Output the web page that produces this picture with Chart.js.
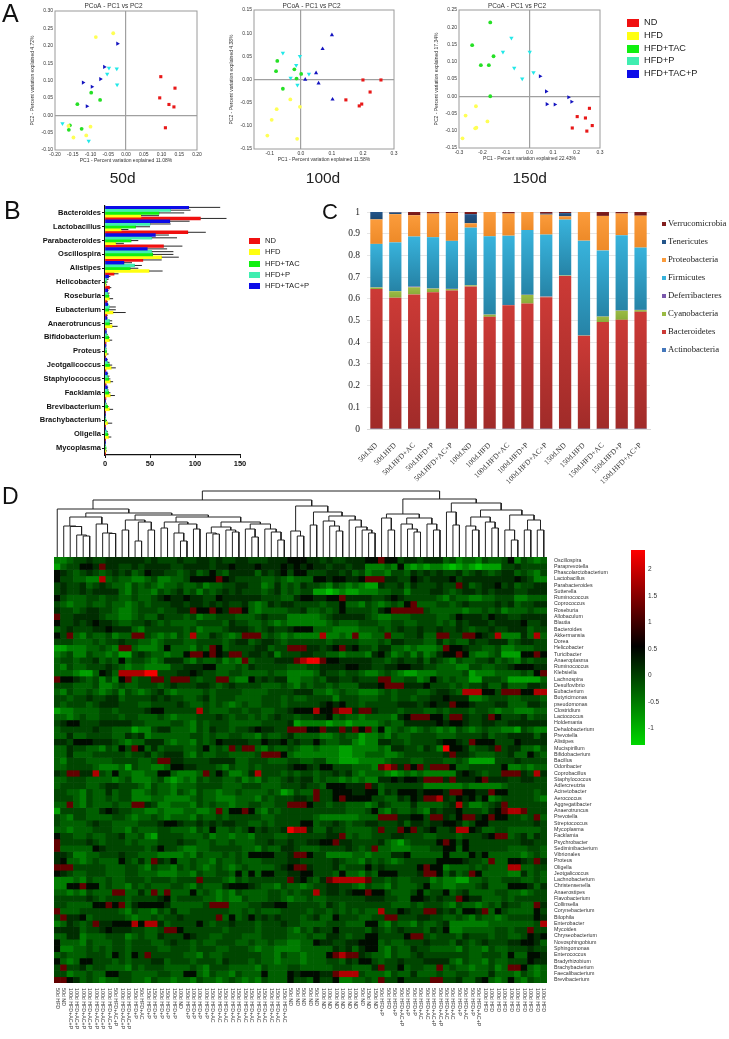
<!DOCTYPE html>
<html>
<head>
<meta charset="utf-8">
<title>Gut microbiota figure</title>
<script src="https://cdn.jsdelivr.net/npm/chart.js@4"></script>
<style>
  html, body { margin: 0; padding: 0; background: #fff; }
  #page { position: relative; width: 729px; height: 1039px; overflow: hidden; font-family: "Liberation Sans", sans-serif; filter: blur(.3px); }
  #page canvas { position: absolute; }
  .txt { position: absolute; white-space: nowrap; line-height: 1; }
  .sw { position: absolute; }
</style>
</head>
<body>
<div id="page"></div>
<script>
// Panel A: PCoA points, one [x, y] list per group
var groupNames = ['ND', 'HFD', 'HFD+TAC', 'HFD+P', 'HFD+TAC+P'];
var nd50 = [[.098,.111],[.138,.078],[.095,.05],[.121,.031],[.135,.024],[.111,-.036]];
var hfd50 = [[-.085,.225],[-.036,.236],[-.10,-.033],[-.162,-.031],[-.148,-.064],[-.112,-.058]];
var tac50 = [[-.098,.065],[-.073,.044],[-.137,.032],[-.158,-.029],[-.161,-.042],[-.125,-.039]];
var p50 = [[-.048,.136],[-.026,.134],[-.053,.119],[-.025,.088],[-.179,-.024],[-.105,-.074]];
var tacp50 = [[-.024,.206],[-.061,.139],[-.072,.104],[-.096,.082],[-.121,.094],[-.11,.026]];

var nd100 = [[.258,-.001],[.2,-.001],[.223,-.027],[.145,-.044],[.196,-.053],[.188,-.057]];
var hfd100 = [[-.078,-.064],[-.034,-.043],[-.003,-.059],[-.094,-.087],[-.108,-.121],[-.012,-.128]];
var tac100 = [[-.076,.04],[-.08,.018],[-.021,.022],[.001,.012],[-.014,.002],[-.058,-.02]];
var p100 = [[-.058,.057],[-.003,.05],[-.015,.031],[.026,.012],[-.033,.003],[-.011,-.012]];
var tacp100 = [[.1,.096],[.07,.066],[.049,.014],[.014,0],[.057,-.008],[.102,-.043]];

var nd150 = [[.255,-.035],[.203,-.059],[.238,-.063],[.267,-.085],[.182,-.092],[.244,-.101]];
var hfd150 = [[-.228,-.029],[-.272,-.056],[-.179,-.073],[-.226,-.091],[-.231,-.093],[-.285,-.122]];
var tac150 = [[-.167,.214],[-.244,.148],[-.153,.116],[-.207,.09],[-.173,.09],[-.167,0]];
var p150 = [[-.077,.169],[-.113,.128],[.001,.128],[-.065,.082],[.017,.069],[-.031,.051]];
var tacp150 = [[.045,.058],[.071,.014],[.166,-.003],[.179,-.016],[.074,-.023],[.108,-.024]];

var ticks50x = [-.2,-.15,-.1,-.05,0,.05,.1,.15,.2];
var ticks50y = [-.1,-.05,0,.05,.1,.15,.2,.25,.3];
var ticks100x = [-.1,0,.1,.2,.3];
var ticks100y = [-.15,-.1,-.05,0,.05,.1,.15];
var ticks150x = [-.3,-.2,-.1,0,.1,.2,.3];
var ticks150y = [-.15,-.1,-.05,0,.05,.1,.15,.2,.25];

// Panel B: genus abundance, mean and upper error per group
var genera = ['Bacteroides','Lactobacillus','Parabacteroides','Oscillospira','Alistipes','Helicobacter','Roseburia','Eubacterium','Anaerotruncus','Bifidobacterium','Proteus','Jeotgalicoccus','Staphylococcus','Facklamia','Brevibacterium','Brachybacterium','Oligella','Mycoplasma'];
var ndMean = [106,92,65,42,10,5,2,2,1,1,.5,1,1,1,.5,.3,.5,.3];
var ndErr = [135,112,86,63,15,7,3,3,2,1.5,1,1,1.5,1,1,.5,1,.5];
var hfdMean = [40,18,12,63,49,1,5,9,8,5,2,7,6,6,5,3,4,1];
var hfdErr = [60,26,21,82,64,2,9,23,14,8,4,12,9,11,9,8,7,2];
var tacMean = [60,34,29,53,28,1,4,4,5,4,1.5,5,4,4,3,1,3,1];
var tacErr = [88,50,37,76,37,3,5,12,8,5,2,8,6,6,4,2,4,1.5];
var pMean = [73,50,52,52,33,2,3,5,5,2,1,3,3,3,1,.5,2,.5];
var pErr = [95,73,80,76,41,4,5,12,8,3,1.5,5,5,4,2,1,3,1];
var tacpMean = [93,72,56,47,21,4,3,3,2,1.5,1,2,2.5,2.5,.5,.5,.5,.5];
var tacpErr = [128,94,71,69,30,6,4,4,3,2,1.5,3,3.5,3.5,1,1,1,1];

// Panel C: phylum fractions
var samples = ['50d.ND','50d.HFD','50d.HFD+AC','50d.HFD+P','50d.HFD+AC+P','100d.ND','100d.HFD','100d.HFD+AC','100d.HFD+P','100d.HFD+AC+P','150d.ND','150d.HFD','150d.HFD+AC','150d.HFD+P','150d.HFD+AC+P'];
var phyla = ['Actinobacteria','Bacteroidetes','Cyanobacteria','Deferribacteres','Firmicutes','Proteobacteria','Tenericutes','Verrucomicrobia'];
var actinobacteria = [.001,.001,.001,.001,.001,.001,.001,.001,.001,.001,.001,.001,.001,.001,.001];
var bacteroidetes = [.644,.604,.619,.629,.637,.656,.516,.569,.577,.606,.704,.429,.492,.502,.539];
var cyanobacteria = [.007,.03,.033,.017,.007,.005,.01,.001,.04,.002,.002,.001,.025,.042,.008];
var deferribacteres = [.001,.001,.003,.001,.001,.001,.001,.001,.001,.002,.001,0,.001,.001,.001];
var firmicutes = [.2,.224,.231,.236,.221,.265,.36,.319,.298,.285,.257,.437,.304,.347,.287];
var proteobacteria = [.113,.13,.098,.109,.128,.02,.112,.102,.083,.092,.015,.132,.159,.1,.147];
var tenericutes = [.034,.008,0,0,0,.042,0,0,0,.004,.015,0,0,0,0];
var verrucomicrobia = [0,.002,.015,.007,.005,.01,0,.008,0,.008,.005,0,.018,.007,.017];

// Panel D: heatmap cells, one digit per cell, digit picks a level from heatLevels
var heatLevels = [-1.14,-.83,-.53,-.27,-.055,.16,.45,1.25,1.8,2.3];
var heatTaxa = ['Oscillospira','Paraprevotella','Phascolarctobacterium','Lactobacillus','Parabacteroides','Sutterella','Ruminococcus','Coprococcus','Roseburia','Allobaculum','Blautia','Bacteroides','Akkermansia','Dorea','Helicobacter','Turicibacter','Anaeroplasma','Ruminococcus','Klebsiella','Lachnospira','Desulfovibrio','Eubacterium','Butyricimonas','pseudomonas','Clostridium','Lactococcus','Holdemania','Dehalobacterium','Prevotella','Alistipes','Mucispirillum','Bifidobacterium','Bacillus','Odoribacter','Coprobacillus','Staphylococcus','Adlercreutzia','Acinetobacter','Aerococcus','Aggregatibacter','Anaerotruncus','Prevotella','Streptococcus','Mycoplasma','Facklamia','Psychrobacter','Sediminibacterium','Vibrionales','Proteus','Oligella','Jeotgalicoccus','Lachnobacterium','Christensenella','Anaerostipes','Flavobacterium','Collinsella','Corynebacterium','Bilophila','Enterobacter','Mycoides','Chryseobacterium','Novosphingobium','Sphingomonas','Enterococcus','Bradyrhizobium','Brachybacterium','Faecalibacterium','Brevibacterium'];
var heatSamples = ['50d HFD','50d ND','100d HFD+AC+P','100d HFD+AC+P','100d HFD+AC+P','100d HFD+AC+P','100d HFD+AC+P','100d HFD+AC+P','100d HFD+AC+P','50d HFD+AC+P','100d HFD+AC+P','100d HFD+AC+P','150d HFD+P','50d HFD+AC','150d HFD+P','150d HFD+P','150d HFD+P','150d HFD+P','150d HFD+P','100d ND','150d HFD+P','100d HFD+P','100d HFD+P','100d HFD+P','150d HFD+AC','150d HFD+AC','150d HFD+AC','150d HFD+AC','150d HFD+AC','150d HFD+AC','150d HFD+AC','150d HFD+AC','150d HFD+AC','150d HFD+AC','150d HFD+AC','150d HFD+AC','50d ND','50d ND','50d ND','50d ND','50d ND','100d ND','100d ND','100d ND','100d ND','100d ND','100d ND','50d ND','150d ND','150d ND','50d HFD+P','50d HFD','50d HFD+P','50d HFD+AC+P','50d HFD+P','50d HFD+P','50d HFD+AC','50d HFD+AC','50d HFD+AC+P','50d HFD+AC+P','50d HFD+AC','50d HFD+AC','50d HFD+P','50d HFD+AC','50d HFD+P','50d HFD+AC+P','100d HFD','100d HFD','100d HFD','100d HFD','100d HFD','100d HFD','100d HFD','100d HFD','100d HFD','100d HFD'];
var heatRows = [
  '2234454455 5555454445 4455454455 4445556665 5454455566 7664554555 3423324334 624323',
  '1344665755 4454555544 5555455655 5655565656 5545545522 2326212122 1012101114 454444',
  '6543454345 4534655443 4534643555 5354564664 4455453423 3244354545 4453454345 534324',
  '6443322834 3322342233 4666676544 4433432333 6656655677 7554465455 5645555555 565422',
  '4544534543 3243432334 3342334455 4423534354 4324323211 5445354445 4475345564 534455',
  '4544545555 3243324345 3424345454 4434534344 1101211222 3344244455 4345545455 544555',
  '6433344344 3343345655 6554465555 5544433566 5566755554 4565444443 2433223344 422333',
  '4323343343 3234344455 4554545445 3235455444 4344633243 2343673334 4345444454 534455',
  '5443455443 2234443445 5766765776 3233334453 3434644443 5677777433 3332334342 333433',
  '7445555433 2234335444 3423344433 3454442222 2345555543 2233344443 3465554655 445555',
  '6445456554 3344543433 3344443544 3343232222 2234333444 3344334443 4354555455 556445',
  '3454445565 5532444444 3423334555 4345445666 3332222333 4345445445 4454344544 555344',
  '6473243342 3377432324 3833543237 7734323222 2822327223 3733445337 7447765482 225383',
  '4443334344 5443323444 3344443455 3455434444 4434444333 4355444335 3433544555 345544',
  '1122233432 7732223633 3243763444 4553447775 5456756443 5533232223 7665443342 233344',
  '2342243323 1145433233 6776765774 5545244455 4433233325 6423424235 6676322341 116676',
  '3443445343 6344323555 3243342327 3444555789 9766555554 4345445354 3243344534 324344',
  '3243344454 3233222244 5556633343 5444443334 4555566554 4556655443 3322443344 566655',
  '3332113653 8888994445 5654433443 3334332222 3544344322 3432112223 3334122233 334367',
  '7665434242 6734477477 7434477322 6454552233 4355445444 7733442364 3433114443 111113',
  '4443334223 4334443454 4455434544 4433343243 4434333555 6777555644 4343445335 333554',
  '3243343234 2432345323 3334344443 3334444555 3323433222 3434443345 5438886647 776688',
  '4434454455 3444454544 3345344433 3344434334 4442444333 4434434455 6555223444 334443',
  '4344434555 4443344445 4334343234 3344434444 4565644344 4445554565 5766544455 333554',
  '1223333443 4444566444 4484333443 4433445666 8667885775 4443444334 3444344323 322233',
  '3323433444 3443334323 3344454344 3434544344 5563433233 3325677766 4775445764 445344',
  '4566444555 5544333344 3243444333 3344445122 2212212222 3433555556 5665445544 555555',
  '3444445443 3312245533 3243544344 5655447776 6755757673 6234323432 3243234332 214322',
  '3353344443 3545233333 3443433443 3243345333 3223433122 3243344443 3344445344 555535',
  '5546665554 3233555323 3243465555 4465564544 6433442122 5544344445 6654766644 465555',
  '3354433243 6476353444 3346343747 7324334322 3222112222 3255443542 9665344574 553324',
  '3353334444 4344534555 3243344333 3477763222 2222112233 3223444444 5755433344 533643',
  '3244433334 4443347755 4444555533 4443334433 4422111222 2344433444 3343111144 454444',
  '3344443222 3143322366 5544432433 4344445665 4664443332 7875767477 7633444446 223233',
  '5477558436 3322336632 2237464223 5844434344 3445453233 3212323222 2256543447 775485',
  '3344433332 3422234212 3243443342 3243345455 3433232322 5565665777 5755567555 445544',
  '3444433455 4443243323 3344443334 4433344454 4366655575 3444444222 2223222223 444444',
  '4433243353 4422343324 3243323343 3334312433 7446665566 3546665666 5776655766 444434',
  '4443243343 4422233222 2343322233 3243444554 7446766664 4335465778 5465646234 444432',
  '3373243334 3377542233 3243433233 4433447776 4434433323 5433353333 4584223457 444444',
  '1444433565 4433223222 3322373667 6324344444 4444433346 3243343254 5564443567 887444',
  '4324433334 4323343233 3243343444 4433444444 3222222333 7775566477 5467756766 443473',
  '4333345443 3334445665 4454545544 3343444466 3445434455 4445355455 6653466444 444454',
  '3323334443 3243334433 3243633434 6454459885 3354433334 7447674564 4588653344 333334',
  '6443343344 5334214444 3334233233 2444334444 4455734334 4455444334 4434445677 345354',
  '7444454344 4343334445 4433433433 3445445445 5667554444 5321344446 7646444444 445544',
  '7333336544 4444346443 2233444443 3243355433 3444454347 3322233344 6636444444 333443',
  '5542233444 5443332222 3243334343 6666445776 4422223323 3355633333 6333646333 332343',
  '5633234333 6435375463 3433243343 3344445544 4445433243 4323444446 6665443733 665475',
  '7774444433 3443243324 3432343234 3333456775 4445344464 5444446766 2333434333 883344',
  '6543344433 3443332223 3243344363 6366445566 4443633243 6664445776 3534763333 225343',
  '2223243343 3444344434 4474443243 4444447564 3578888874 4343344423 2211334334 443343',
  '2266766343 3243433344 3243335666 5433243323 4455443243 3243334633 2233345333 666535',
  '3323243337 7335373733 3634323243 3334434344 8455456676 6433346344 6345333344 332344',
  '4444454344 4344445634 4443323224 3334432334 3344444455 5443366545 4476553334 344444',
  '4433336676 7356666533 3334777333 4455664444 4354344444 4433343444 3243323435 443375',
  '7333444444 3243324353 3444444334 3433344443 4434343433 8446544775 4536657364 333364',
  '4755634444 4323343445 4444473634 6454544434 5336444334 4774445544 3343243323 444465',
  '2354347556 6686885344 4464344544 4344454433 3344433366 3243324334 5222222333 333348',
  '5555344565 5544334776 4444443444 4344443243 5446444435 4345444354 6223333344 344744',
  '3355233344 4234335444 6544334443 3344443334 3355434466 4444677434 4435444344 334656',
  '6333243334 4344433454 4343344433 4334332233 6554455666 3433444544 4354345444 556653',
  '6223343434 4344443344 4344433444 3233222233 3335453566 3243354433 3324332433 444544',
  '3433344436 4364744444 3324334444 4433243323 3367877543 3243345444 4444334443 633665',
  '6323664443 4344455344 4344435444 3433233323 3344354664 3445444555 5324332433 444655',
  '4744534433 3243444333 3432444333 3243334433 3334443335 7446344337 3433233423 776323',
  '4423343366 4433334433 6632433243 3363336566 6557888433 3243353334 3344333533 324323',
  '7765343233 4433243323 3243323432 3243336443 6446223343 7446444477 4453356323 632433'
];
var colorbarTicks = [-1,-.5,0,.5,1,1.5,2];
var colorbarRange = [-1.31, 2.37];

// Dendrogram over the heatmap: [height, left, right], 0 is a leaf
var dendroTree = [66,
  [57,
    [48, 0,
      [44,
        [40, [31, 0, [30.5, 0, [22, 0, [21, 0, 0]]]], [33, 0, [24, 0, [23.5, 0, 0]]]],
        [42,
          [37, [27, 0, 0], [35, [16, 0, 0], [27, 0, 0]]],
          [40,
            [35, [29, 0, 0], [33, [24, 0, [16, 0, 0]], [28, 0, 0]]],
            [35,
              [30, [24, 0, [23, 0, 0]], [27, 0, [25, 0, 0]]],
              [33, [28, 0, [20, 0, 0]], [28, 0, [25, 0, [17, 0, 0]]]]]]]]],
    [51,
      [26, 0, [21, 0, 0]],
      [45, [32, 0, 0],
        [41, [36, 0, [31, 0, [26, 0, 0]]], [37, 0, [30, 0, [27, 0, [24, 0, 0]]]]]]]],
  [58,
    [43, [39, 0, [27, 0, 0]], [39, [33, 0, [28, 0, [25, 0, 0]]], [33, 0, [27, 0, 0]]]],
    [54, [45, 0, [32, 0, 0]],
      [47,
        [40, [31, 0, [27, 0, 0]], [35, 0, [29, 0, 0]]],
        [42, [27, 0, [17, 0, 0]], [37, [27, 0, 0], [27, 0, 0]]]]]]];

Chart.defaults.animation = false;
Chart.defaults.responsive = false;
Chart.defaults.font.family = '"Liberation Sans", sans-serif';
Chart.defaults.plugins.legend.display = false;
Chart.defaults.plugins.tooltip.enabled = false;

var page = document.getElementById('page');

function text(str, x, y, size, opts) {
  opts = opts || {};
  var d = document.createElement('div');
  d.className = 'txt';
  d.textContent = str;
  d.style.left = x + 'px';
  d.style.top = y + 'px';
  d.style.fontSize = size + 'px';
  if (opts.family) d.style.fontFamily = opts.family;
  if (opts.color) d.style.color = opts.color;
  if (opts.center) d.style.transform = 'translateX(-50%)';
  page.appendChild(d);
}

function swatch(x, y, w, h, color) {
  var d = document.createElement('div');
  d.className = 'sw';
  d.style.cssText = 'left:' + x + 'px;top:' + y + 'px;width:' + w + 'px;height:' + h + 'px;background:' + color;
  page.appendChild(d);
}

// Canvas placed so the plot area lands on the given rectangle
function makeCanvas(rect, m) {
  var c = document.createElement('canvas');
  c.width = rect.w + m.l + m.r;
  c.height = rect.h + m.t + m.b;
  c.style.left = (rect.x - m.l) + 'px';
  c.style.top = (rect.y - m.t) + 'px';
  page.appendChild(c);
  return c;
}

// Fixed axis size, no extra room for labels that stick out at the ends
function fixSize(size) {
  return function(s) {
    if (s.isHorizontal()) s.height = size; else s.width = size;
    s.paddingTop = s.paddingBottom = s.paddingLeft = s.paddingRight = 0;
  };
}

// Panel A
function fmt2(v) { return v.toFixed(2); }
function fmt1(v) { return v.toFixed(1); }

var framePlugin = {
  id: 'frame',
  afterDraw: function(chart) {
    var a = chart.chartArea, ctx = chart.ctx;
    ctx.save();
    ctx.strokeStyle = '#9a9a9a';
    ctx.lineWidth = 1;
    ctx.strokeRect(a.left, a.top, a.right - a.left, a.bottom - a.top);
    ctx.restore();
  }
};

function pcoa(rect, points, cfg) {
  var styles = [
    { c: '#e81818', s: 'rect', r: 2.2, rot: 0 },
    { c: '#ffff55', s: 'circle', r: 1.9, rot: 0 },
    { c: '#25e025', s: 'circle', r: 1.9, rot: 0 },
    { c: '#22e8e8', s: 'triangle', r: 2.5, rot: 180 },
    { c: '#1414c0', s: 'triangle', r: 2.4, rot: cfg.blueRot }
  ];
  function zeroLine(ctx) { return ctx.tick && ctx.tick.value === 0 ? '#a0a0a0' : 'rgba(0,0,0,0)'; }
  new Chart(makeCanvas(rect, { l: 25, t: rect.y, r: 8, b: 14 }), {
    type: 'scatter',
    data: {
      datasets: points.map(function(list, i) {
        return {
          label: groupNames[i],
          data: list.map(function(p) { return { x: p[0], y: p[1] }; }),
          backgroundColor: styles[i].c,
          borderWidth: 0,
          pointStyle: styles[i].s,
          pointRadius: styles[i].r,
          rotation: styles[i].rot
        };
      })
    },
    options: {
      layout: { padding: { right: 8 } },
      plugins: {
        title: { display: true, text: 'PCoA - PC1 vs PC2', color: '#333', font: { size: 6.5, weight: 'normal' }, padding: { top: 2, bottom: rect.y - 9.8 } }
      },
      scales: {
        x: {
          min: cfg.xr[0], max: cfg.xr[1],
          afterBuildTicks: function(s) { s.ticks = cfg.xt.map(function(v) { return { value: v }; }); },
          afterFit: fixSize(14),
          grid: { color: zeroLine, lineWidth: 1.2, drawTicks: false },
          border: { display: false },
          ticks: { autoSkip: false, maxRotation: 0, padding: 2, color: '#333', font: { size: 5 }, callback: cfg.xf },
          title: { display: true, text: 'PC1 - Percent variation explained ' + cfg.xp, color: '#333', font: { size: 5 }, padding: 0 }
        },
        y: {
          min: cfg.yr[0], max: cfg.yr[1],
          afterBuildTicks: function(s) { s.ticks = cfg.yt.map(function(v) { return { value: v }; }); },
          afterFit: fixSize(25),
          grid: { color: zeroLine, lineWidth: 1.2, drawTicks: false },
          border: { display: false },
          ticks: { autoSkip: false, padding: 2, color: '#333', font: { size: 5 }, callback: fmt2 },
          title: { display: true, text: 'PC2 - Percent variation explained ' + cfg.yp, color: '#333', font: { size: 5 }, padding: 0 }
        }
      }
    },
    plugins: [framePlugin]
  });
}

pcoa({ x: 55, y: 11, w: 142, h: 139 }, [nd50, hfd50, tac50, p50, tacp50], {
  xr: [-.2, .2], yr: [-.1, .3], xt: ticks50x, yt: ticks50y, xf: fmt2, xp: '11.08%', yp: '4.72%', blueRot: 90
});
pcoa({ x: 254, y: 10, w: 140, h: 139 }, [nd100, hfd100, tac100, p100, tacp100], {
  xr: [-.151, .3], yr: [-.15, .15], xt: ticks100x, yt: ticks100y, xf: fmt1, xp: '11.58%', yp: '4.38%', blueRot: 0
});
pcoa({ x: 459, y: 10, w: 141, h: 138 }, [nd150, hfd150, tac150, p150, tacp150], {
  xr: [-.3, .3], yr: [-.15, .25], xt: ticks150x, yt: ticks150y, xf: fmt1, xp: '22.43%', yp: '17.34%', blueRot: 90
});

text('50d', 122.7, 170, 15.5, { center: true, color: '#222' });
text('100d', 323, 170, 15.5, { center: true, color: '#222' });
text('150d', 529.7, 170, 15.5, { center: true, color: '#222' });

var legendColors = ['#f01010', '#ffff10', '#10f010', '#40eeb0', '#0c0ce8'];
groupNames.forEach(function(name, i) {
  var y = 23 + i * 12.75;
  swatch(627, y - 4, 12, 8, legendColors[i]);
  text(name, 644, y - 5, 9.2, { color: '#222' });
});

// Panel B
var errorBarPlugin = {
  id: 'errorBars',
  afterDatasetsDraw: function(chart) {
    var ctx = chart.ctx, xs = chart.scales.x;
    ctx.save();
    ctx.strokeStyle = '#111';
    ctx.lineWidth = 0.9;
    chart.data.datasets.forEach(function(ds, i) {
      chart.getDatasetMeta(i).data.forEach(function(bar, j) {
        ctx.beginPath();
        ctx.moveTo(xs.getPixelForValue(ds.data[j]), bar.y);
        ctx.lineTo(xs.getPixelForValue(ds.errors[j]), bar.y);
        ctx.stroke();
      });
    });
    ctx.restore();
  }
};

var barRect = { x: 105, y: 206, w: 135, h: 249 };
var barColors = ['#0c0ce8', '#40eeb0', '#10f010', '#ffff10', '#f01010'];
new Chart(makeCanvas(barRect, { l: 100, t: 5, r: 12, b: 16 }), {
  type: 'bar',
  data: {
    labels: genera,
    datasets: [
      { label: 'HFD+TAC+P', data: tacpMean, errors: tacpErr, backgroundColor: barColors[0] },
      { label: 'HFD+P', data: pMean, errors: pErr, backgroundColor: barColors[1] },
      { label: 'HFD+TAC', data: tacMean, errors: tacErr, backgroundColor: barColors[2] },
      { label: 'HFD', data: hfdMean, errors: hfdErr, backgroundColor: barColors[3] },
      { label: 'ND', data: ndMean, errors: ndErr, backgroundColor: barColors[4] }
    ]
  },
  options: {
    indexAxis: 'y',
    layout: { padding: { top: 5, right: 12 } },
    datasets: { bar: { barPercentage: 1, categoryPercentage: 1 } },
    scales: {
      x: {
        min: 0, max: 150,
        afterFit: fixSize(16),
        grid: { drawOnChartArea: false, tickLength: 3, tickColor: '#111', offset: false },
        border: { color: '#111', width: 1.2 },
        ticks: { stepSize: 50, padding: 1, color: '#111', font: { size: 7.5, weight: 'bold' } }
      },
      y: {
        afterFit: fixSize(100),
        grid: { drawOnChartArea: false, tickLength: 3, tickColor: '#111', offset: false },
        border: { color: '#111', width: 1.2 },
        ticks: { autoSkip: false, padding: 1, color: '#111', font: { size: 7.5, weight: 'bold' } }
      }
    }
  },
  plugins: [errorBarPlugin]
});

groupNames.forEach(function(name, i) {
  var y = 241 + i * 11.25;
  swatch(249, y - 3, 11, 6, barColors[4 - i]);
  text(name, 265, y - 4, 7.6, { color: '#222' });
});

// Panel C
var serif = '"Liberation Serif", serif';
var phylaValues = [actinobacteria, bacteroidetes, cyanobacteria, deferribacteres, firmicutes, proteobacteria, tenericutes, verrucomicrobia];
var phylaBottom = ['#3d6fb0', '#a02b29', '#8aac3a', '#6a4a9c', '#2683a6', '#ee8a28', '#1c4870', '#6e1616'];
var phylaTop = ['#4477bb', '#cc3a36', '#9bbb44', '#7a58ac', '#38b3dc', '#fb9c3c', '#24558a', '#821e1e'];

function segmentFill(ctx) {
  var chart = ctx.chart;
  if (!chart.chartArea || ctx.dataIndex === undefined) return phylaTop[ctx.datasetIndex];
  var low = 0;
  for (var k = 0; k < ctx.datasetIndex; k++) low += phylaValues[k][ctx.dataIndex];
  var high = low + phylaValues[ctx.datasetIndex][ctx.dataIndex];
  var ys = chart.scales.y;
  var g = chart.ctx.createLinearGradient(0, ys.getPixelForValue(low), 0, ys.getPixelForValue(high));
  g.addColorStop(0, phylaBottom[ctx.datasetIndex]);
  g.addColorStop(1, phylaTop[ctx.datasetIndex]);
  return g;
}

var stackRect = { x: 367, y: 212, w: 283, h: 217 };
new Chart(makeCanvas(stackRect, { l: 22, t: 8, r: 8, b: 62 }), {
  type: 'bar',
  data: {
    labels: samples,
    datasets: phyla.map(function(name, i) {
      return { label: name, data: phylaValues[i], backgroundColor: segmentFill };
    })
  },
  options: {
    layout: { padding: { top: 8, right: 8 } },
    datasets: { bar: { categoryPercentage: 1, barPercentage: .65 } },
    scales: {
      x: {
        stacked: true,
        afterFit: fixSize(62),
        grid: { display: false },
        border: { color: '#d8d8d8' },
        ticks: { autoSkip: false, minRotation: 45, maxRotation: 45, padding: 4, color: '#333', font: { family: serif, size: 7.5 } }
      },
      y: {
        stacked: true, min: 0, max: 1,
        afterFit: fixSize(22),
        grid: { color: '#e6e6e6', drawTicks: false },
        border: { display: false },
        ticks: {
          stepSize: .1, padding: 7, color: '#222', font: { family: serif, size: 9.5 },
          callback: function(v) { return String(Math.round(v * 10) / 10); }
        }
      }
    }
  }
});

phyla.slice().reverse().forEach(function(name, i) {
  var y = 223.5 + i * 18;
  swatch(662, y - 2, 4, 4, phylaTop[7 - i]);
  text(name, 668, y - 5, 8.7, { family: serif, color: '#222' });
});

// Panel D: dendrogram
var dendroPts = [], leafCount = 0;
function walk(node) {
  if (node === 0) { leafCount++; return { x: leafCount - .5, h: 0 }; }
  var a = walk(node[1]), b = walk(node[2]);
  dendroPts.push({ x: a.x, y: a.h }, { x: a.x, y: node[0] }, { x: b.x, y: node[0] }, { x: b.x, y: b.h }, { x: NaN, y: NaN });
  return { x: (a.x + b.x) / 2, h: node[0] };
}
walk(dendroTree);

new Chart(makeCanvas({ x: 54, y: 489, w: 493, h: 68 }, { l: 0, t: 0, r: 0, b: 0 }), {
  type: 'scatter',
  data: { datasets: [{ data: dendroPts, showLine: true, spanGaps: false, borderColor: '#222', borderWidth: 1, pointRadius: 0 }] },
  options: {
    scales: {
      x: { display: false, min: 0, max: leafCount },
      y: { display: false, min: 0, max: 68 }
    }
  }
});

// Panel D: heatmap
function heatColor(v) {
  var mid = .55;
  if (v < mid) {
    var t = Math.min(1, (mid - v) / (mid - colorbarRange[0]));
    return 'rgb(0,' + Math.round(215 * t) + ',0)';
  }
  var u = Math.min(1, (v - mid) / (colorbarRange[1] - mid));
  return 'rgb(' + Math.round(255 * u) + ',0,0)';
}

var heatMatrix = heatRows.map(function(row) {
  return row.replace(/ /g, '').split('').map(function(d) { return heatLevels[+d]; });
});

var columnLabelPlugin = {
  id: 'columnLabels',
  afterDraw: function(chart) {
    var ctx = chart.ctx, xs = chart.scales.x, bottom = chart.chartArea.bottom;
    ctx.save();
    ctx.fillStyle = '#333';
    ctx.font = '5.3px "Liberation Sans"';
    ctx.textAlign = 'left';
    ctx.textBaseline = 'middle';
    heatSamples.forEach(function(label, i) {
      ctx.save();
      ctx.translate(xs.getPixelForValue(i), bottom + 5);
      ctx.rotate(Math.PI / 2);
      ctx.fillText(label, 0, 0);
      ctx.restore();
    });
    ctx.restore();
  }
};

var heatRect = { x: 54, y: 557, w: 493, h: 426 };
new Chart(makeCanvas(heatRect, { l: 0, t: 0, r: 75, b: 56 }), {
  type: 'bar',
  data: {
    labels: heatSamples,
    datasets: heatMatrix.map(function(cells, r) {
      return {
        label: heatTaxa[r],
        data: cells.map(function() { return [r, r + 1]; }),
        backgroundColor: cells.map(heatColor),
        grouped: false,
        barPercentage: 1,
        categoryPercentage: 1
      };
    })
  },
  options: {
    scales: {
      x: {
        afterFit: fixSize(56),
        grid: { display: false, drawTicks: false },
        border: { display: false },
        ticks: { display: false, autoSkip: false }
      },
      y: {
        position: 'right', reverse: true, min: 0, max: heatTaxa.length,
        afterBuildTicks: function(s) { s.ticks = heatTaxa.map(function(t, r) { return { value: r + .5 }; }); },
        afterFit: fixSize(75),
        grid: { display: false, drawTicks: false },
        border: { display: false },
        ticks: {
          autoSkip: false, padding: 7, color: '#333', font: { size: 5.3 },
          callback: function(v) { return heatTaxa[v - .5]; }
        }
      }
    }
  },
  plugins: [columnLabelPlugin]
});

// Panel D: colour bar
function barFill(ctx) {
  var chart = ctx.chart;
  if (!chart.chartArea) return '#000';
  var ys = chart.scales.y;
  var g = chart.ctx.createLinearGradient(0, ys.getPixelForValue(colorbarRange[0]), 0, ys.getPixelForValue(colorbarRange[1]));
  var mid = (.55 - colorbarRange[0]) / (colorbarRange[1] - colorbarRange[0]);
  g.addColorStop(0, 'rgb(0,215,0)');
  g.addColorStop(mid, '#000');
  g.addColorStop(1, 'rgb(255,0,0)');
  return g;
}

new Chart(makeCanvas({ x: 631, y: 550, w: 14, h: 195 }, { l: 0, t: 5, r: 25, b: 5 }), {
  type: 'bar',
  data: { labels: [''], datasets: [{ data: [colorbarRange], backgroundColor: barFill, barPercentage: 1, categoryPercentage: 1 }] },
  options: {
    layout: { padding: { top: 5, bottom: 5 } },
    scales: {
      x: { display: false },
      y: {
        position: 'right', min: colorbarRange[0], max: colorbarRange[1],
        afterBuildTicks: function(s) { s.ticks = colorbarTicks.map(function(v) { return { value: v }; }); },
        afterFit: fixSize(25),
        grid: { display: false, drawTicks: false },
        border: { display: false },
        ticks: { autoSkip: false, padding: 3, color: '#333', font: { size: 6.5 }, callback: function(v) { return String(v); } }
      }
    }
  }
});

// Panel letters
text('A', 2, 1, 25, { color: '#111' });
text('B', 4, 198, 25, { color: '#111' });
text('C', 322, 201, 22, { color: '#111' });
text('D', 2, 485, 23, { color: '#111' });
</script>
</body>
</html>
